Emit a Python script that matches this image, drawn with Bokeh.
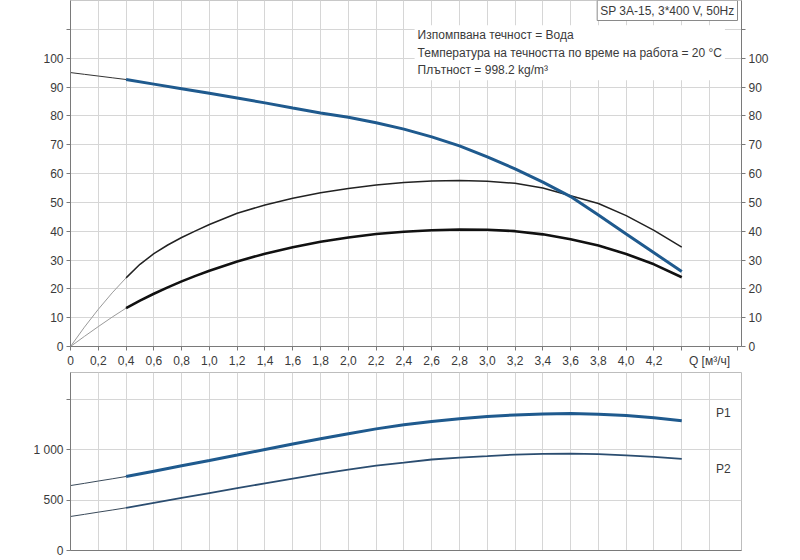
from bokeh.plotting import figure
from bokeh.models import Range1d, LinearAxis, FixedTicker, Label
from bokeh.layouts import column
from bokeh.embed import file_html
from bokeh.resources import INLINE

# ---------------- data ----------------
Q_MAIN = [0.4, 0.6, 0.8, 1.0, 1.2, 1.4, 1.6, 1.8, 2.0, 2.2, 2.4,
          2.6, 2.8, 3.0, 3.2, 3.4, 3.6, 3.8, 4.0, 4.2, 4.4]
H_MAIN = [92.6, 91.0, 89.4, 87.8, 86.2, 84.5, 82.7, 81.0, 79.5, 77.6, 75.4,
          72.7, 69.6, 65.8, 61.6, 57.0, 52.0, 45.6, 39.0, 32.5, 26.0]
P1_MAIN = [735, 788, 841, 894, 948, 1003, 1057, 1109, 1160, 1208, 1248,
           1281, 1308, 1331, 1347, 1357, 1360, 1354, 1341, 1318, 1288]
P2_MAIN = [424, 473, 522, 571, 620, 667, 714, 760, 803, 844, 872,
           904, 922, 937, 953, 960, 962, 957, 945, 930, 910]

Q_ETA = [0.4, 0.5, 0.6, 0.7, 0.8, 0.9, 1.0, 1.2, 1.4, 1.6, 1.8, 2.0, 2.2, 2.4,
         2.6, 2.8, 3.0, 3.2, 3.4, 3.6, 3.8, 4.0, 4.2, 4.4]
ETA_PUMP = [23.8, 28.5, 32.2, 35.2, 37.8, 40.1, 42.3, 46.2, 49.1, 51.4, 53.3,
            54.8, 56.0, 56.9, 57.4, 57.6, 57.3, 56.6, 55.0, 52.3, 49.6, 45.4,
            40.3, 34.5]
ETA_TOTAL = [13.3, 15.9, 18.3, 20.5, 22.6, 24.5, 26.3, 29.5, 32.2, 34.4, 36.3,
             37.8, 39.0, 39.8, 40.3, 40.6, 40.5, 40.0, 38.9, 37.2, 35.0, 32.1,
             28.5, 24.0]

Q_EXT = [0.0, 0.1, 0.2, 0.3, 0.4]
H_EXT = [95.0, 94.4, 93.8, 93.2, 92.6]
ETA_PUMP_EXT = [0.0, 6.7, 12.9, 18.6, 23.8]
ETA_TOTAL_EXT = [0.0, 3.5, 6.9, 10.2, 13.3]
P1_EXT = [645, 667, 690, 712, 735]
P2_EXT = [338, 359, 381, 402, 424]

Q_TICKS = [0.0, 0.2, 0.4, 0.6, 0.8, 1.0, 1.2, 1.4, 1.6, 1.8, 2.0, 2.2,
           2.4, 2.6, 2.8, 3.0, 3.2, 3.4, 3.6, 3.8, 4.0, 4.2, 4.4, 4.6, 4.8]
Q_TICK_LABELS = ["0", "0,2", "0,4", "0,6", "0,8", "1,0", "1,2", "1,4", "1,6",
                 "1,8", "2,0", "2,2", "2,4", "2,6", "2,8", "3,0", "3,2", "3,4",
                 "3,6", "3,8", "4,0", "4,2", "", "Q [м³/ч]", ""]
Q_GRID = Q_TICKS[:-1]
H_TICKS = [0, 10, 20, 30, 40, 50, 60, 70, 80, 90, 100, 110]
H_TICK_LABELS = ["0", "10", "20", "30", "40", "50", "60", "70", "80", "90", "100", ""]
P_TICKS = [0, 500, 1000, 1500]
P_TICK_LABELS = ["0", "500", "1 000", ""]

TITLE_BOX = "SP 3A-15, 3*400 V, 50Hz"
INFO_LINES = ["Изпомпвана течност = Вода",
              "Температура на течността по време на работа = 20 °C",
              "Плътност = 998.2 kg/m³"]

# ---------------- styling ----------------
FONT = "Liberation Sans"
TXT = "#3a3a3a"
AXIS = "#7a7a7a"
GRID = "#d6d6d6"
BLUE = "#1f5a8e"
BLUE2 = "#2b4d70"
XMAX = 4.83
HMAX = 120
PMAX = 1768


def style_axis(ax, ticks, labels):
    ax.ticker = FixedTicker(ticks=ticks)
    ax.major_label_overrides = {t: l for t, l in zip(ticks, labels)}
    ax.axis_line_color = AXIS
    ax.major_tick_line_color = AXIS
    ax.minor_tick_line_color = None
    ax.major_tick_in = 0
    ax.major_tick_out = 4
    ax.major_label_text_font = FONT
    ax.major_label_text_font_size = "12px"
    ax.major_label_text_color = TXT
    ax.major_label_standoff = 3


# ---------------- top figure: H and eta ----------------
p1 = figure(width=784, height=370, output_backend="svg", toolbar_location=None,
            x_range=Range1d(0, XMAX), y_range=Range1d(0, HMAX),
            min_border_left=70, min_border_right=43, min_border_top=0,
            min_border_bottom=20, background_fill_color="white",
            border_fill_color="white")
p1.outline_line_color = "#c8c8c8"
p1.xgrid.ticker = FixedTicker(ticks=Q_GRID)
p1.ygrid.ticker = FixedTicker(ticks=H_TICKS)
p1.grid.grid_line_color = GRID
p1.grid.grid_line_width = 1
style_axis(p1.xaxis[0], Q_TICKS, Q_TICK_LABELS)
style_axis(p1.yaxis[0], H_TICKS, H_TICK_LABELS)
ax_r = LinearAxis()
style_axis(ax_r, H_TICKS, H_TICK_LABELS)
p1.add_layout(ax_r, "right")

p1.line(Q_EXT, H_EXT, line_color="#333333", line_width=1)
p1.line(Q_EXT, ETA_PUMP_EXT, line_color="#9a9a9a", line_width=1)
p1.line(Q_EXT, ETA_TOTAL_EXT, line_color="#9a9a9a", line_width=1)
p1.line(Q_ETA, ETA_PUMP, line_color="#222222", line_width=1.5)
p1.line(Q_ETA, ETA_TOTAL, line_color="#111111", line_width=2.6)
p1.line(Q_MAIN, H_MAIN, line_color=BLUE, line_width=3)

p1.add_layout(Label(x=-0.216, y=HMAX, text="H\n[m]", text_align="center",
                    text_baseline="top", text_font=FONT, text_font_size="12px",
                    text_color=TXT, text_line_height=1.15))
p1.add_layout(Label(x=5.04, y=HMAX, text="eta\n[%]", text_align="center",
                    text_baseline="top", text_font=FONT, text_font_size="12px",
                    text_color=TXT, text_line_height=1.15))
p1.add_layout(Label(x=XMAX, y=HMAX, x_offset=-4, text=TITLE_BOX,
                    text_align="right", text_baseline="top", text_font=FONT,
                    text_font_size="12px", text_color=TXT, padding=3,
                    background_fill_color="white", border_line_color="#8a8a8a",
                    border_line_width=1))
p1.add_layout(Label(x=2.477, y=111.4, text="\n".join(INFO_LINES),
                    text_align="left", text_baseline="top", text_font=FONT,
                    text_font_size="12px", text_color=TXT, text_line_height=1.25,
                    padding=3, background_fill_color="white"))

# ---------------- bottom figure: power ----------------
p2 = figure(width=784, height=188, output_backend="svg", toolbar_location=None,
            x_range=p1.x_range, y_range=Range1d(0, PMAX),
            min_border_left=70, min_border_right=43, min_border_top=2,
            min_border_bottom=8, background_fill_color="white",
            border_fill_color="white")
p2.outline_line_color = "#bdbdbd"
p2.xgrid.ticker = FixedTicker(ticks=Q_GRID)
p2.ygrid.ticker = FixedTicker(ticks=P_TICKS)
p2.grid.grid_line_color = GRID
style_axis(p2.yaxis[0], P_TICKS, P_TICK_LABELS)
style_axis(p2.xaxis[0], Q_TICKS, [""] * len(Q_TICKS))
p2.xaxis[0].major_tick_out = 0
p2.xaxis[0].major_label_standoff = 0
p2.xaxis[0].major_label_text_font_size = "0px"

p2.line(Q_EXT, P1_EXT, line_color="#3a4a5a", line_width=1)
p2.line(Q_EXT, P2_EXT, line_color="#3a4a5a", line_width=1)
p2.line(Q_MAIN, P2_MAIN, line_color=BLUE2, line_width=1.8)
p2.line(Q_MAIN, P1_MAIN, line_color=BLUE, line_width=3)

p2.add_layout(Label(x=-0.265, y=PMAX, text="P\n[W]", text_align="center",
                    text_baseline="top", text_font=FONT, text_font_size="12px",
                    text_color=TXT, text_line_height=1.25))
p2.add_layout(Label(x=4.70, y=1363, text="P1", text_align="center",
                    text_baseline="middle", text_font=FONT, text_font_size="12px",
                    text_color=TXT))
p2.add_layout(Label(x=4.70, y=814, text="P2", text_align="center",
                    text_baseline="middle", text_font=FONT, text_font_size="12px",
                    text_color=TXT))

layout = column(p1, p2, spacing=0)
open("out.html", "w").write(file_html(layout, INLINE))
